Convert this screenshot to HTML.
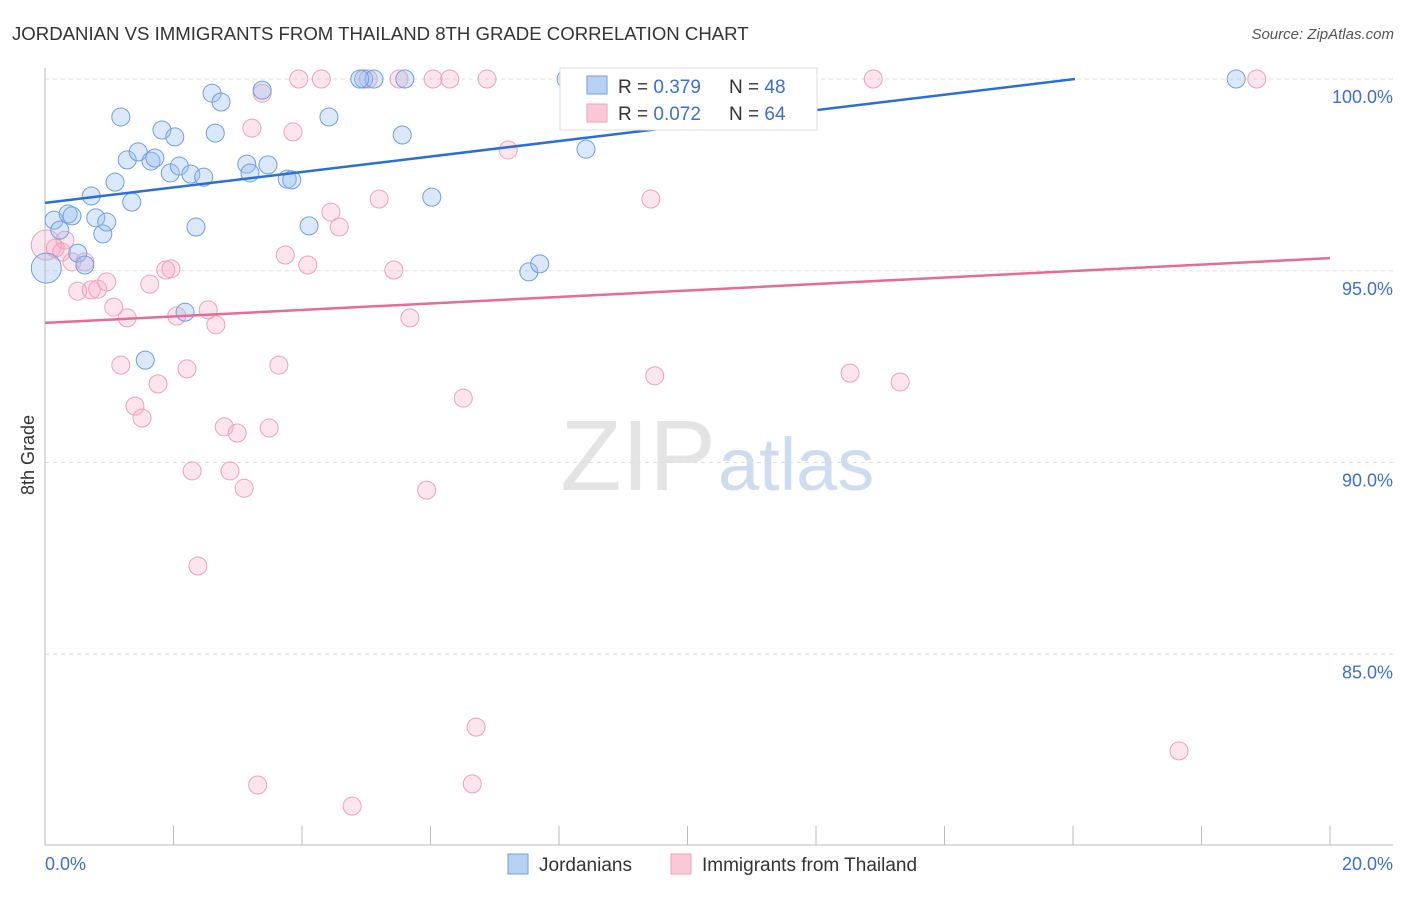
<!DOCTYPE html>
<html><head><meta charset="utf-8"><style>
body{margin:0;background:#fff;font-family:"Liberation Sans",sans-serif}
svg text{font-family:"Liberation Sans",sans-serif}
</style></head><body>
<svg id="c" width="1406" height="892">
<text x="12" y="40" font-size="18.6" fill="#333">JORDANIAN VS IMMIGRANTS FROM THAILAND 8TH GRADE CORRELATION CHART</text>
<text x="1394" y="39" font-size="15" fill="#555" text-anchor="end" font-style="italic">Source: ZipAtlas.com</text>
<text x="716" y="490" font-size="100" fill="#e4e4e4" text-anchor="end" font-family="Liberation Serif">ZIP</text>
<text x="718" y="490" font-size="74" fill="#cfdcf0">atlas</text>
<text x="34" y="455" font-size="18" fill="#333" transform="rotate(-90 34 455)" text-anchor="middle">8th Grade</text>
<g id="grid"></g><g id="marks"></g>
<g>
<rect x="560" y="68" width="257" height="62" fill="#fff" stroke="#ddd"/>
<rect x="587" y="76" width="20" height="18" fill="#b8d0f4" stroke="#6f9fe0"/>
<rect x="587" y="104" width="20" height="18" fill="#fbc8d8" stroke="#f0a0b8"/>
<text x="618" y="93" font-size="19" fill="#333">R = <tspan fill="#3b6fd6">0.379</tspan></text>
<text x="729" y="93" font-size="19" fill="#333">N = <tspan fill="#3b6fd6">48</tspan></text>
<text x="618" y="120" font-size="19" fill="#333">R = <tspan fill="#3b6fd6">0.072</tspan></text>
<text x="729" y="120" font-size="19" fill="#333">N = <tspan fill="#3b6fd6">64</tspan></text>
</g>
<g>
<rect x="508" y="854" width="20" height="20" fill="#b8d0f4" stroke="#6f9fe0"/>
<text x="539" y="871" font-size="19" fill="#333">Jordanians</text>
<rect x="671" y="854" width="20" height="20" fill="#fbc8d8" stroke="#f0a0b8"/>
<text x="702" y="871" font-size="19" fill="#333">Immigrants from Thailand</text>
</g>
<text x="45" y="870" font-size="18" fill="#3b6fd6">0.0%</text>
<text x="1393" y="870" font-size="18" fill="#3b6fd6" text-anchor="end">20.0%</text>
</svg>
<script>
const yTicks=[100,95,90,85];
const blueX=[0.02,0.14,0.23,0.36,0.42,0.51,0.62,0.72,0.79,0.90,0.96,1.09,1.18,1.28,1.35,1.45,1.56,1.65,1.71,1.82,1.95,2.02,2.09,2.18,2.27,2.35,2.47,2.60,2.65,2.74,3.14,3.19,3.38,3.47,3.77,3.84,4.11,4.42,4.96,5.12,5.56,5.60,6.02,7.53,7.70,8.11,8.42,18.54,4.90];
const blueY=[95.07,96.32,96.06,96.48,96.43,95.46,95.15,96.95,96.38,95.96,96.27,97.31,99.01,97.89,96.79,98.10,92.67,97.86,97.94,98.67,97.55,98.49,97.73,93.92,97.52,96.14,97.44,99.63,98.59,99.40,97.78,97.55,99.71,97.76,97.39,97.37,96.17,99.01,100,100,98.54,100,96.92,94.97,95.18,100,98.17,100,100];
const pinkX=[0.02,0.16,0.26,0.31,0.42,0.51,0.62,0.72,0.82,0.96,1.07,1.18,1.28,1.40,1.51,1.63,1.76,1.88,1.96,2.05,2.21,2.29,2.38,2.54,2.66,2.79,2.88,2.99,3.10,3.22,3.31,3.38,3.49,3.64,3.74,3.86,3.95,4.09,4.30,4.45,4.58,4.78,5.03,5.20,5.43,5.51,5.68,5.94,6.04,6.30,6.51,6.71,6.65,6.88,7.21,9.43,9.49,11.33,11.58,12.53,12.89,13.31,17.65,18.86];
const pinkY=[95.67,95.59,95.49,95.80,95.23,94.47,95.23,94.50,94.52,94.71,94.05,92.54,93.77,91.47,91.16,94.65,92.05,95.02,95.05,93.82,92.44,89.78,87.30,93.98,93.59,90.93,89.78,90.77,89.33,98.72,81.59,99.63,90.90,92.54,95.41,98.62,100,95.15,100,96.53,96.14,81.04,100,96.87,95.02,100,93.77,89.28,100,100,91.68,83.10,81.62,100,98.15,96.87,92.26,100,100,92.33,100,92.10,82.48,100];
const blueTrend=[96.77,0.2015];
const pinkTrend=[93.64,0.0845];
const NS='http://www.w3.org/2000/svg';
const sx=v=>45+v/20*1285, sy=v=>79+(100-v)*38.35;
function mk(t,a,p){const e=document.createElementNS(NS,t);for(const k in a)e.setAttribute(k,a[k]);p.appendChild(e);return e;}
const g=document.getElementById('grid'),m=document.getElementById('marks');
yTicks.forEach(t=>{const l=mk('line',{x1:45,x2:1393,y1:sy(t),y2:sy(t),stroke:'#ddd','stroke-dasharray':'4,4'},g);


const tx=mk('text',{x:1393,y:sy(t)+24,'font-size':18,fill:'#3b6fd6','text-anchor':'end'},g);tx.textContent=t.toFixed(1)+'%';

});
const ax=mk('line',{x1:45,x2:1393,y1:845,y2:845,stroke:'#bbb'},g);


const ay=mk('line',{x1:45,x2:45,y1:68,y2:845,stroke:'#bbb'},g);


for(let i=0;i<=10;i++){const t=mk('line',{x1:sx(i*2),x2:sx(i*2),y1:826,y2:845,stroke:'#bbb'},g);

}
function pts(X,Y,f,s,n){X.forEach((x,i)=>{const c=mk('circle',{cx:sx(x),cy:sy(Y[i]),r:(x<0.05?15:9),fill:f,stroke:s,'stroke-width':1},m);

});}
pts(pinkX,pinkY,'rgba(248,170,195,0.3)','#f0a0b8','thailand-point');
pts(blueX,blueY,'rgba(150,190,240,0.35)','#6f9fe0','jordanian-point');
const bEnd=Math.min(20,(100-blueTrend[0])/blueTrend[1]);
const bl=mk('line',{x1:sx(0),y1:sy(blueTrend[0]),x2:sx(bEnd),y2:sy(blueTrend[0]+blueTrend[1]*bEnd),stroke:'#2a6fd6','stroke-width':2.5},m);


const pl=mk('line',{x1:sx(0),y1:sy(pinkTrend[0]),x2:sx(20),y2:sy(pinkTrend[0]+pinkTrend[1]*20),stroke:'#e86a98','stroke-width':2.5},m);


</script>
</body></html>
